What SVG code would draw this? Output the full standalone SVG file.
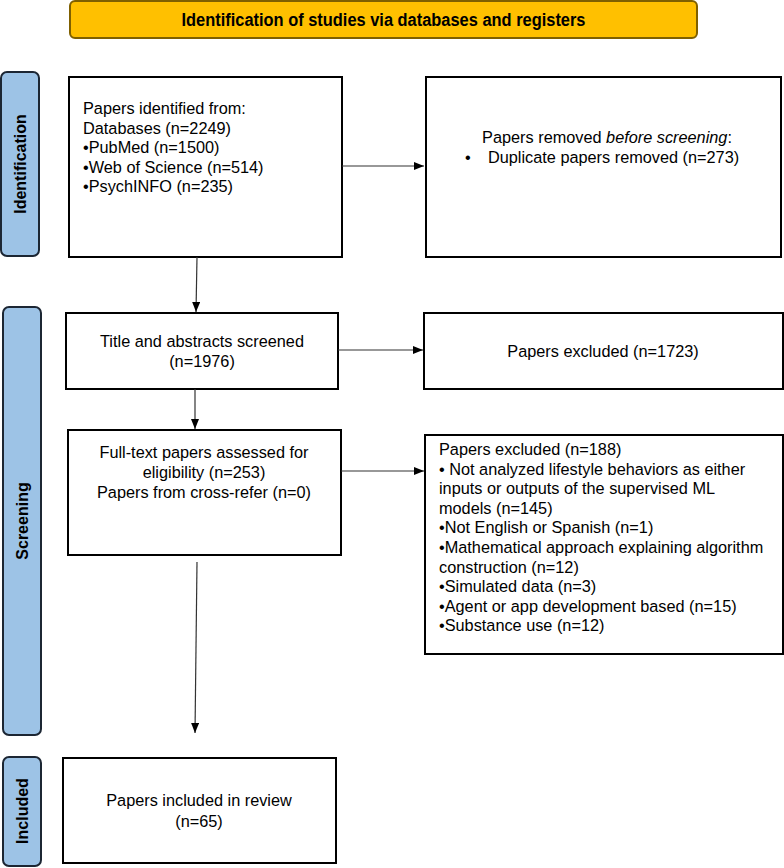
<svg xmlns="http://www.w3.org/2000/svg" width="784" height="868" viewBox="0 0 784 868">
<defs>
<marker id="ah" markerWidth="10" markerHeight="8" refX="10" refY="4" orient="auto" markerUnits="userSpaceOnUse">
<path d="M0,0 L10,4 L0,8 Z" fill="#000"/>
</marker>
<style>
.box{fill:#fff;stroke:#000;stroke-width:2}
.side{fill:#9DC3E6;stroke:#1c2633;stroke-width:2}
.sidet{font-family:"Liberation Sans",Arial,sans-serif;font-weight:bold;font-size:16px;fill:#000;text-anchor:middle}
.t{font-family:"Liberation Sans",Arial,sans-serif;font-size:16.3px;fill:#000}
.c{text-anchor:middle}
.ln{stroke:#333;stroke-width:1.2;fill:none;marker-end:url(#ah)}
</style>
</defs>
<rect width="784" height="868" fill="#fff"/>

<g id="banner">
<rect x="70" y="1" width="627" height="37" rx="5" fill="#FFC000" stroke="#7F6000" stroke-width="2"/>
<text x="383.5" y="26" text-anchor="middle" font-family="'Liberation Sans Narrow','Liberation Sans',Arial,sans-serif" font-weight="bold" font-size="17.5" textLength="404" lengthAdjust="spacingAndGlyphs">Identification of studies via databases and registers</text>
</g>

<g id="side-identification">
<rect class="side" x="1" y="72" width="38" height="184" rx="6"/>
<text class="sidet" transform="translate(26,164) rotate(-90)">Identification</text>
</g>
<g id="side-screening">
<rect class="side" x="3" y="307" width="38" height="428" rx="6"/>
<text class="sidet" transform="translate(28,521) rotate(-90)">Screening</text>
</g>
<g id="side-included">
<rect class="side" x="3" y="757" width="38" height="109" rx="6"/>
<text class="sidet" transform="translate(28,811) rotate(-90)">Included</text>
</g>

<g id="identified">
<rect class="box" x="69" y="77" width="273" height="180"/>
<text class="t" x="83" y="114">Papers identified from:</text>
<text class="t" x="83" y="133.5">Databases (n=2249)</text>
<text class="t" x="83" y="153">•PubMed (n=1500)</text>
<text class="t" x="83" y="172.5">•Web of Science (n=514)</text>
<text class="t" x="83" y="192">•PsychINFO (n=235)</text>
</g>

<g id="removed">
<rect class="box" x="426" y="77" width="355" height="180"/>
<text class="t c" x="607" y="143">Papers removed <tspan font-style="italic">before screening</tspan>:</text>
<text class="t" x="465" y="163">•</text>
<text class="t" x="488" y="163">Duplicate papers removed (n=273)</text>
</g>

<g id="screened">
<rect class="box" x="66" y="313" width="272" height="76"/>
<text class="t c" x="202" y="347">Title and abstracts screened</text>
<text class="t c" x="202" y="367">(n=1976)</text>
</g>

<g id="excluded1">
<rect class="box" x="424" y="313" width="359" height="76"/>
<text class="t c" x="603" y="357">Papers excluded (n=1723)</text>
</g>

<g id="fulltext">
<rect class="box" x="68" y="430" width="273" height="125"/>
<text class="t c" x="204" y="458">Full-text papers assessed for</text>
<text class="t c" x="204" y="478">eligibility (n=253)</text>
<text class="t c" x="204" y="498">Papers from cross-refer (n=0)</text>
</g>

<g id="excluded2">
<rect class="box" x="425" y="435" width="358" height="219"/>
<text class="t" x="439" y="455">Papers excluded (n=188)</text>
<text class="t" x="439" y="474.6">• Not analyzed lifestyle behaviors as either</text>
<text class="t" x="439" y="494.2">inputs or outputs of the supervised ML</text>
<text class="t" x="439" y="513.8">models (n=145)</text>
<text class="t" x="439" y="533.4">•Not English or Spanish (n=1)</text>
<text class="t" x="439" y="553">•Mathematical approach explaining algorithm</text>
<text class="t" x="439" y="572.6">construction (n=12)</text>
<text class="t" x="439" y="592.2">•Simulated data (n=3)</text>
<text class="t" x="439" y="611.8">•Agent or app development based (n=15)</text>
<text class="t" x="439" y="631.4">•Substance use (n=12)</text>
</g>

<g id="included">
<rect class="box" x="63" y="758" width="273" height="105"/>
<text class="t c" x="199" y="806">Papers included in review</text>
<text class="t c" x="199" y="827">(n=65)</text>
</g>

<g id="connectors">
<line class="ln" x1="342" y1="166" x2="424" y2="166"/>
<line class="ln" x1="197" y1="257" x2="196" y2="312"/>
<line class="ln" x1="338" y1="350" x2="423" y2="350"/>
<line class="ln" x1="195" y1="389" x2="195" y2="429"/>
<line class="ln" x1="341" y1="471" x2="424" y2="471"/>
<line class="ln" x1="197" y1="562" x2="195" y2="733"/>
</g>
</svg>
